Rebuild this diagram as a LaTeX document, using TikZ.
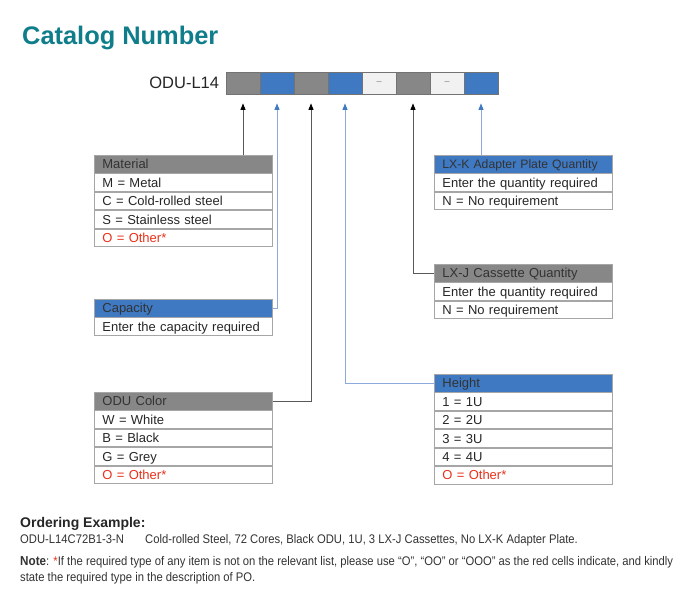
\documentclass[tikz,border=0pt]{standalone}
\usepackage{fontspec}
\setmainfont{Liberation Sans}
\newfontfamily\narrowfont[FakeStretch=0.9]{Liberation Sans}
\usetikzlibrary{positioning,arrows.meta}
\definecolor{titleteal}{HTML}{0F7E8A}
\definecolor{hdrgray}{HTML}{878787}
\definecolor{hdrblue}{HTML}{3E79C2}
\definecolor{cellgray}{HTML}{F1F1F1}
\definecolor{lineblue}{HTML}{8EAADC}
\definecolor{redtxt}{HTML}{E8311A}

\begin{document}
\begin{tikzpicture}[x=1pt, y=-1pt,
        row/.style={draw=black!35, line width=0.8pt, minimum height=17.6pt, text width=162pt,
            inner xsep=8pt, inner ysep=0pt, align=left, text height=9.3pt, text depth=0pt,
            font=\fontsize{13}{15}\selectfont, text=black!85},
        graytop/.style={row, fill=hdrgray, text=black!80, anchor=north west},
        bluetop/.style={row, fill=hdrblue, text=black!80, anchor=north west},
        redrow/.style={row, text=redtxt},
        codecell/.style={draw=black!55, line width=0.8pt, minimum width=34pt, minimum height=22pt,
            inner sep=0pt, font=\fontsize{9}{10}\selectfont, text=black!50},
        blackline/.style={draw=black!65, line width=0.9pt,
            -{Triangle[width=5pt,length=6.5pt,color=black]}, shorten >=9pt},
        blueline/.style={draw=lineblue, line width=0.9pt,
            -{Triangle[width=5pt,length=6.5pt,color=hdrblue]}, shorten >=9pt},
        smalltext/.style={anchor=base west, inner sep=0pt, font=\narrowfont\fontsize{12.5}{14}\selectfont, text=black!80}]
    \useasboundingbox (0,0) rectangle (700,610);

    % Title
    \node[anchor=base west, inner sep=0pt, font=\bfseries\fontsize{25.4}{28}\selectfont, text=titleteal] (title) at (22,45) {Catalog Number};

    % Code bar
    \foreach \f/\t [count=\i] in {hdrgray/{}, hdrblue/{}, hdrgray/{}, hdrblue/{}, cellgray/\textendash, hdrgray/{}, cellgray/\textendash, hdrblue/{}} {
        \node[codecell, fill=\f] (c\i) at (209+34*\i, 83) {\t};
    }
    \node[left=3pt of c1, font=\fontsize{16.5}{18}\selectfont, text=black!85] (prefix) {ODU-L14};

    % Material
    \node[graytop] (mat0) at (94,155) {Material};
    \node[row, below=0pt of mat0] (mat1) {M = Metal};
    \node[row, below=0pt of mat1] (mat2) {C = Cold-rolled steel};
    \node[row, below=0pt of mat2] (mat3) {S = Stainless steel};
    \node[redrow, below=0pt of mat3] (mat4) {O = Other*};

    % Capacity
    \node[bluetop] (cap0) at (94,299) {Capacity};
    \node[row, below=0pt of cap0] (cap1) {Enter the capacity required};

    % ODU Color
    \node[graytop] (odu0) at (94,392) {ODU Color};
    \node[row, below=0pt of odu0] (odu1) {W = White};
    \node[row, below=0pt of odu1] (odu2) {B = Black};
    \node[row, below=0pt of odu2] (odu3) {G = Grey};
    \node[redrow, below=0pt of odu3] (odu4) {O = Other*};

    % LX-K Adapter Plate
    \node[bluetop, font=\fontsize{12.2}{14}\selectfont] (lxk0) at (434,155) {LX-K Adapter Plate Quantity};
    \node[row, below=0pt of lxk0] (lxk1) {Enter the quantity required};
    \node[row, below=0pt of lxk1] (lxk2) {N = No requirement};

    % LX-J Cassette
    \node[graytop] (lxj0) at (434,264) {LX-J Cassette Quantity};
    \node[row, below=0pt of lxj0] (lxj1) {Enter the quantity required};
    \node[row, below=0pt of lxj1] (lxj2) {N = No requirement};

    % Height
    \node[bluetop] (hgt0) at (434,374) {Height};
    \node[row, below=0pt of hgt0] (hgt1) {1 = 1U};
    \node[row, below=0pt of hgt1] (hgt2) {2 = 2U};
    \node[row, below=0pt of hgt2] (hgt3) {3 = 3U};
    \node[row, below=0pt of hgt3] (hgt4) {4 = 4U};
    \node[redrow, below=0pt of hgt4] (hgt5) {O = Other*};

    % Connectors to the code bar
    \draw[blackline] (mat0.north -| c1) -- (c1.south);
    \draw[blueline] (cap0.east) -| (c2.south);
    \draw[blackline] (odu0.east) -| (c3.south);
    \draw[blueline] (hgt0.west) -| (c4.south);
    \draw[blackline] (lxj0.west) -| (c6.south);
    \draw[blueline] (lxk0.north -| c8) -- (c8.south);

    % Ordering example and note
    \node[anchor=base west, inner sep=0pt, font=\bfseries\fontsize{14}{16}\selectfont, text=black!85] (ordtitle) at (20,527) {Ordering Example:};
    \node[smalltext] (ordcode) at (20,543) {ODU-L14C72B1-3-N};
    \node[smalltext] (orddesc) at (145,543) {Cold-rolled Steel, 72 Cores, Black ODU, 1U, 3 LX-J Cassettes, No LX-K Adapter Plate.};
    \node[smalltext] (note1) at (20,565) {{\bfseries\fontsize{13}{14}\selectfont Note}: \textcolor{redtxt}{*}If the required type of any item is not on the relevant list, please use “O”, “OO” or “OOO” as the red cells indicate, and kindly};
    \node[smalltext] (note2) at (20,581) {state the required type in the description of PO.};
\end{tikzpicture}
\end{document}
